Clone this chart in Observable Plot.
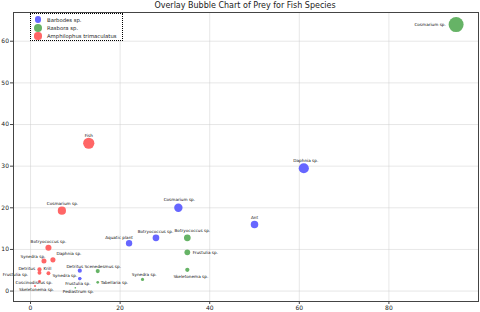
<!DOCTYPE html>
<html><head><meta charset="utf-8">
<script src="https://cdn.jsdelivr.net/npm/d3@7"></script>
<script src="https://cdn.jsdelivr.net/npm/@observablehq/plot@0.6"></script>
<style>
body{margin:0;background:#fff;font-family:"DejaVu Sans",sans-serif;}
#wrap{position:relative;width:480px;height:312px;overflow:hidden;}
#title{height:11px;line-height:11px;font-size:8px;text-align:center;color:#222;padding-left:10px;}
#legend{position:absolute;left:30px;top:13px;width:91px;height:26px;border:1px dotted #000;background:#fff;font-size:5.3px;color:#222;}
.li{position:absolute;left:0;height:8px;width:100%;}
.li span.c{position:absolute;border-radius:50%;}
.li span.t{position:absolute;left:16px;top:0;line-height:8px;}
</style></head>
<body><div id="wrap"><div id="title">Overlay Bubble Chart of Prey for Fish Species</div><div id="chart"></div><div id="legend"></div></div>
<script>
// Series
const seriesNames = ["Barbodes sp.", "Rasbora sp.", "Amphilophus trimaculatus"];
const seriesColors = ["rgb(102,102,255)", "rgb(102,179,102)", "rgb(255,102,102)"];

// Barbodes sp.
const barbodesPrey = ["Daphnia sp.", "Ant", "Cosmarium sp.", "Botryococcus sp.", "Aquatic plant", "Detritus", "Synedra sp.", "Frustulia sp."];
const barbodesX = [61, 50, 33, 28, 22, 11, 11, 11];
const barbodesY = [29.5, 16, 20, 12.8, 11.5, 4.9, 3, 3];

// Rasbora sp.
const rasboraPrey = ["Cosmarium sp.", "Botryococcus sp.", "Frustulia sp.", "Skeletonema sp.", "Synedra sp.", "Scenedesmus sp.", "Tabellaria sp.", "Pediastrum sp."];
const rasboraX = [95, 35, 35, 35, 25, 15, 15, 10];
const rasboraY = [64, 12.8, 9.3, 5.1, 2.8, 4.8, 2.1, 0.8];

// Amphilophus trimaculatus
const amphiPrey = ["Fish", "Cosmarium sp.", "Botryococcus sp.", "Daphnia sp.", "Synedra sp.", "Krill", "Detritus", "Frustulia sp.", "Coscinodiscus sp.", "Skeletonema sp."];
const amphiX = [13, 7, 4, 5, 3, 4, 2, 2, 2, 1];
const amphiY = [35.5, 19.3, 10.4, 7.5, 7.2, 4.3, 5.2, 4.4, 2.3, 1.2];

// Ticks
const xTicks = [0, 20, 40, 60, 80];
const yTicks = [0, 10, 20, 30, 40, 50, 60];

// label nudges (px) in drawing order, styling only
const labelNudge = [
  [2,-8],[0,-7],[1,-7.7],[-0.5,-6],[-10,-6],[-5,-4.5],[-15,-3],[-2,5],
  [-26,0.5],[5,-7],[18,0.3],[3.5,6.3],[1.7,-4.5],[5,-4.8],[16.7,0.3],[3,3.5],
  [0,-8],[0.6,-6.7],[0,-5.8],[16,-6],[-11,-4.3],[-1,-4.4],[-12.7,-0.7],[-24,2],[-5.5,0.7],[1.5,3.7]
];

const rows = [];
[[barbodesPrey, barbodesX, barbodesY], [rasboraPrey, rasboraX, rasboraY], [amphiPrey, amphiX, amphiY]]
  .forEach(([p, xs, ys], s) => p.forEach((name, i) => rows.push({series: seriesNames[s], color: seriesColors[s], prey: name, x: xs[i], y: ys[i]})));
rows.forEach((d, i) => { d.dx = labelNudge[i][0]; d.dy = labelNudge[i][1]; });

const labelMarks = rows.map(d => Plot.text([d], {x: "x", y: "y", text: "prey", dx: d.dx, dy: d.dy, fontSize: 4.2, fill: "#111"}));

const chart = Plot.plot({
  width: 480, height: 301,
  marginLeft: 13, marginRight: 2, marginTop: 1, marginBottom: 11,
  style: {fontFamily: "DejaVu Sans, sans-serif", color: "#222", background: "#fff"},
  x: {domain: [-3.8, 100]},
  y: {domain: [-2.5, 66.9]},
  r: {type: "sqrt", domain: [0, 64], range: [0, 7.5]},
  marks: [
    Plot.gridX(xTicks, {stroke: "#ccc", strokeOpacity: 0.6, strokeWidth: 0.8}),
    Plot.gridY(yTicks, {stroke: "#ccc", strokeOpacity: 0.6, strokeWidth: 0.8}),
    Plot.dot(rows, {x: "x", y: "y", r: "y", fill: "color", fillOpacity: 1, stroke: null}),
    ...labelMarks,
    Plot.frame({stroke: "#444", strokeWidth: 1}),
    Plot.axisX(xTicks, {tickSize: 3, tickPadding: 1, fontSize: 6, stroke: "#444", fill: "#222", label: null}),
    Plot.axisY(yTicks, {tickSize: 3, tickPadding: 1.5, fontSize: 6, stroke: "#444", fill: "#222", label: null})
  ]
});
document.getElementById("chart").appendChild(chart);

const leg = document.getElementById("legend");
const rads = [3.4, 4, 3.6];
seriesNames.forEach((n, i) => {
  const li = document.createElement("div");
  li.className = "li";
  li.style.top = (1.5 + i * 8.3) + "px";
  const c = document.createElement("span");
  c.className = "c";
  const r = rads[i];
  c.style.width = c.style.height = (2 * r) + "px";
  c.style.left = (7 - r) + "px";
  c.style.top = (4 - r) + "px";
  c.style.background = seriesColors[i];
  const t = document.createElement("span");
  t.className = "t";
  t.textContent = n;
  li.appendChild(c); li.appendChild(t);
  leg.appendChild(li);
});
</script>
</body></html>
